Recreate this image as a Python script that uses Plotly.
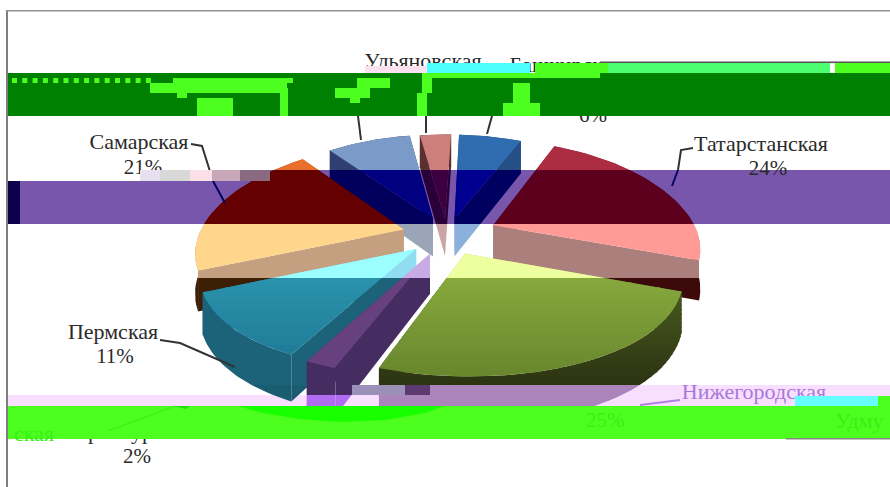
import numpy as np
import plotly.graph_objects as go

regions = ["Башкирская", "Татарстанская", "Нижегородская", "Оренбургская", "Пермская", "Самарская", "Ульяновская", "Удмуртская"]
shares = [6, 24, 25, 2, 11, 21, 8, 3]

# geometry of the drawn pie (pixels of the page)
CX, CY, R, KX, AY, KY, DEPTH, ROT = 447, 235, 205, 0.20, 100, 0.14, 44, np.radians(2)
explode = {"Башкирская": .17, "Татарстанская": .25, "Нижегородская": .2, "Оренбургская": .2,
           "Пермская": .2, "Самарская": .22, "Ульяновская": .18, "Удмуртская": .17}
order = ["Удмуртская", "Ульяновская", "Башкирская", "Самарская", "Татарстанская", "Пермская", "Оренбургская", "Нижегородская"]

BANDS = [("A", 0, 170), ("B", 170, 224), ("C", 224, 278), ("D", 278, 385), ("F", 385, 395), ("E", 395, 406)]
style = {
    "Башкирская": dict(top=dict(A="#2f6cb0", B="#000090", C="#8cb4e0", D="#2f6cb0", E="#2f6cb0"),
                       side=dict(A="#254f85", B="#000060", C="#8cb0dc", D="#254f85", E="#254f85")),
    "Татарстанская": dict(top=dict(A="#ac2c42", B="#5c001e", C="#ff9a96", D="#b83030", E="#b83030"),
                          side=dict(A="#7a2030", B="#3c0014", C="#ab807c", D="#3c0a0a", E="#3c0a0a")),
    "Нижегородская": dict(top=dict(A="#9ab040", B="#4a5a20", C="#eeffa0", D=("#86a83c", "#66842c"), E="#66842c"),
                          side=dict(A="#2c3814", B="#2c3814", C="#c4cc88", D=("#4c5c20", "#2c3412"), E="#aa84ba")),
    "Оренбургская": dict(top=dict(A="#67417f", B="#30104f", C="#c8aae4", D="#67417f", E="#b06cf0", F="#452d62"),
                         side=dict(A="#442c60", B="#20104a", C="#c8aae4", D="#452d62", E="#b06cf0", F="#452d62")),
    "Пермская": dict(top=dict(A="#2090a8", B="#006080", C="#9cffff", D=("#2a92ac", "#1c7490"), E="#1c7490"),
                     side=dict(A="#1a6078", B="#003850", C="#90dcf0", D="#1c6278", E="#1a5c70")),
    "Самарская": dict(top=dict(A="#e8702a", B="#640000", C="#ffd68c", D="#e8702a", E="#e8702a"),
                      side=dict(A="#a04c18", B="#3c0000", C="#c4a080", D="#3c1e04", E="#3c1e04")),
    "Ульяновская": dict(top=dict(A="#7a9ac8", B="#000080", C="#a0b4d8", D="#7a9ac8", E="#7a9ac8"),
                        side=dict(A="#2f3f70", B="#00005c", C="#9aa5b8", D="#2f3f70", E="#2f3f70")),
    "Удмуртская": dict(top=dict(A="#cc7f7c", B="#3c0040", C="#c9a5a5", D="#cc7f7c", E="#cc7f7c"),
                       side=dict(A="#5a3030", B="#2a0038", C="#c9a5a5", D="#5a3030", E="#5a3030")),
}


def project(X, Y):
    return CX + X * R / (1 - KX * Y), CY + AY * Y / (1 - KY * Y)


def clip(poly, lo, hi):
    def half(pts, keep, cross):
        out = []
        for i, a in enumerate(pts):
            b = pts[(i + 1) % len(pts)]
            if keep(a):
                out.append(a)
            if keep(a) != keep(b):
                t = (cross - a[1]) / (b[1] - a[1])
                out.append((a[0] + t * (b[0] - a[0]), cross))
        return out
    pts = half(list(poly), lambda q: q[1] >= lo, lo)
    if pts:
        pts = half(pts, lambda q: q[1] <= hi, hi)
    return pts


def mix(c1, c2, t):
    a = [int(c1[i:i + 2], 16) for i in (1, 3, 5)]
    b = [int(c2[i:i + 2], 16) for i in (1, 3, 5)]
    return "#%02x%02x%02x" % tuple(int(round(u + (v - u) * t)) for u, v in zip(a, b))


def fills(poly, colors):
    res = []
    for key, lo, hi in BANDS:
        c = colors.get(key, colors["E"])
        if isinstance(c, tuple):
            n = 24
            for i in range(n):
                l, h = lo + (hi - lo) * i / n, lo + (hi - lo) * (i + 1) / n
                res.append((clip(poly, l, min(h + 1, hi)), mix(c[0], c[1], i / (n - 1))))
        else:
            res.append((clip(poly, lo, hi), c))
    return res


fig = go.Figure()


def add_poly(pts, color):
    if len(pts) < 3:
        return
    xs = [q[0] for q in pts] + [pts[0][0]]
    ys = [q[1] for q in pts] + [pts[0][1]]
    fig.add_trace(go.Scatter(x=xs, y=ys, mode="lines", fill="toself", fillcolor=color,
                             line=dict(width=0, color=color), hoverinfo="skip", showlegend=False))


def down(q):
    return (q[0], q[1] + DEPTH * (0.75 + 0.35 * (q[1] - 150) / 230))


edges = np.cumsum([0] + shares) / sum(shares) * 2 * np.pi + ROT
for name in order:
    i = regions.index(name)
    a0, a1 = edges[i], edges[i + 1]
    mid = (a0 + a1) / 2
    e = explode[name]
    ox, oy = e * np.sin(mid), -e * np.cos(mid)
    th = np.linspace(a0, a1, 40)
    arc = [project(ox + np.sin(t), oy - np.cos(t)) for t in th]
    apex = project(ox, oy)
    st = style[name]
    # radial walls
    for corner in (arc[0], arc[-1]):
        for pts, col in fills([apex, corner, down(corner), down(apex)], st["side"]):
            add_poly(pts, col)
    # rim
    for pts, col in fills(arc + [down(q) for q in arc[::-1]], st["side"]):
        add_poly(pts, col)
    # top face
    for pts, col in fills([apex] + arc, st["top"]):
        add_poly(pts, col)

# labels under the damaged strips
SERIF = "Liberation Serif"
labels = [
    ("Ульяновская", 423, 62, 22), ("Башкирская", 566, 66, 22), ("6%", 593, 117, 21),
    ("Татарстанская", 761, 145, 22), ("24%", 768, 170, 21),
    ("Самарская", 139, 143, 22), ("21%", 143, 169, 21),
    ("Пермская", 113, 333, 22), ("11%", 115, 358, 21),
    ("Оренбургская", 137, 433, 22), ("2%", 137, 458, 21),
]
fig.add_trace(go.Scatter(x=[l[1] for l in labels], y=[l[2] for l in labels], text=[l[0] for l in labels],
                         mode="text", textfont=dict(family=SERIF, size=[l[3] for l in labels], color="#2a2a2a"),
                         hoverinfo="skip", showlegend=False))
fig.add_trace(go.Scatter(x=[754], y=[393], text=["Нижегородская"], mode="text",
                         textfont=dict(family=SERIF, size=22, color="#a878d8"),
                         hoverinfo="skip", showlegend=False))


# leader lines
def leader(xs, ys, color="#333333", w=2):
    fig.add_trace(go.Scatter(x=xs, y=ys, mode="lines", line=dict(color=color, width=w),
                             hoverinfo="skip", showlegend=False))


leader([191, 202, 213], [144, 146, 181])
leader([213, 225], [181, 203], "#000060")
leader([358, 361], [116, 140])
leader([426, 426], [116, 133])
leader([492, 487], [116, 134])
leader([693, 681, 678], [148, 150, 170])
leader([678, 672], [170, 186], "#000060")
leader([160, 180, 235], [340, 343, 367])
leader([680, 640], [400, 405], "#b080e0")

shapes = []


def rect(x0, y0, x1, y1, color, layer="above"):
    shapes.append(dict(type="rect", x0=x0, y0=y0, x1=x1, y1=y1, fillcolor=color,
                       line=dict(width=0), layer=layer))


LIME = "#4cff1e"
# purple strip (under the pie)
rect(7, 181, 890, 224, "#7856ab", "below")
rect(270, 170, 890, 181, "#7856ab", "below")
rect(7, 181, 20, 224, "#0c004c", "below")
# pale pink strips
rect(7, 395, 890, 406, "#f9dfff", "below")
rect(380, 385, 890, 395, "#f9dfff", "below")
# green strip with its bright fragments
rect(7, 73, 890, 116, "#008000")
for x in np.arange(12, 150, 10.3):
    rect(x, 78, x + 5, 83, LIME)
for x0, y0, x1, y1 in [(173, 78, 293, 83), (150, 83, 287, 93), (177, 93, 187, 98), (197, 98, 233, 116),
                       (280, 88, 288, 116), (335, 88, 370, 98), (350, 98, 360, 103), (357, 78, 390, 88),
                       (417, 93, 427, 116), (422, 73, 432, 93), (427, 73, 600, 78), (513, 83, 530, 103),
                       (503, 103, 540, 116), (535, 63, 608, 73), (835, 63, 890, 73)]:
    rect(x0, y0, x1, y1, LIME)
rect(608, 63, 830, 73, "#4cff70")
rect(427, 63, 530, 73, "#4cffff")
rect(365, 66, 427, 73, "#fbe0f0")
rect(600, 61.5, 890, 63, "#555555")
# lime strip
rect(7, 406, 890, 439, LIME)
rect(795, 396, 878, 406, "#66ffff")
rect(878, 396, 890, 406, LIME)
rect(786, 438, 890, 439.5, "#888888")
shapes.append(dict(type="path", path="M238 406 L262 413 L300 419 L340 422 L385 420 L425 413 L445 406 Z",
                   fillcolor="#18ff00", line=dict(width=0), layer="above"))
shapes.append(dict(type="path", path="M173 406 L190 406 L186 409 Z", fillcolor="#20e010",
                   line=dict(width=0), layer="above"))
shapes.append(dict(type="line", x0=175, y0=406, x1=108, y1=431, line=dict(color="#38ee18", width=1.2), layer="above"))
# noisy rows
for x0, x1, c in [(140, 160, "#e8e0f0"), (160, 190, "#d8d8d8"), (190, 212, "#fbe0e8"), (212, 240, "#c8a8b8"),
                  (240, 270, "#8a6a80")]:
    rect(x0, 170, x1, 181, c)
rect(352, 385, 405, 395, "#9a90b8")
rect(405, 385, 430, 395, "#5c3a70")
# page frame
rect(6, 10, 8, 487, "#808080")
rect(6, 10, 890, 11.5, "#909090")

annots = [
    dict(x=605, y=420, text="25%", xanchor="center", font=dict(family=SERIF, size=21, color="#38f018")),
    dict(x=12, y=433, text="ская", xanchor="left", font=dict(family=SERIF, size=22, color="#38f018")),
    dict(x=833, y=420, text="Удму", xanchor="left", font=dict(family=SERIF, size=22, color="#38f018")),
]
for a in annots:
    a.update(showarrow=False, xref="x", yref="y")

fig.update_layout(
    width=890, height=487, margin=dict(l=0, r=0, t=0, b=0), showlegend=False,
    paper_bgcolor="white", plot_bgcolor="white", shapes=shapes, annotations=annots,
    xaxis=dict(range=[0, 890], visible=False, fixedrange=True),
    yaxis=dict(range=[487, 0], visible=False, fixedrange=True),
)
fig.write_html("out.html", config=dict(displayModeBar=False),
               post_script="document.body.style.margin='0';")
